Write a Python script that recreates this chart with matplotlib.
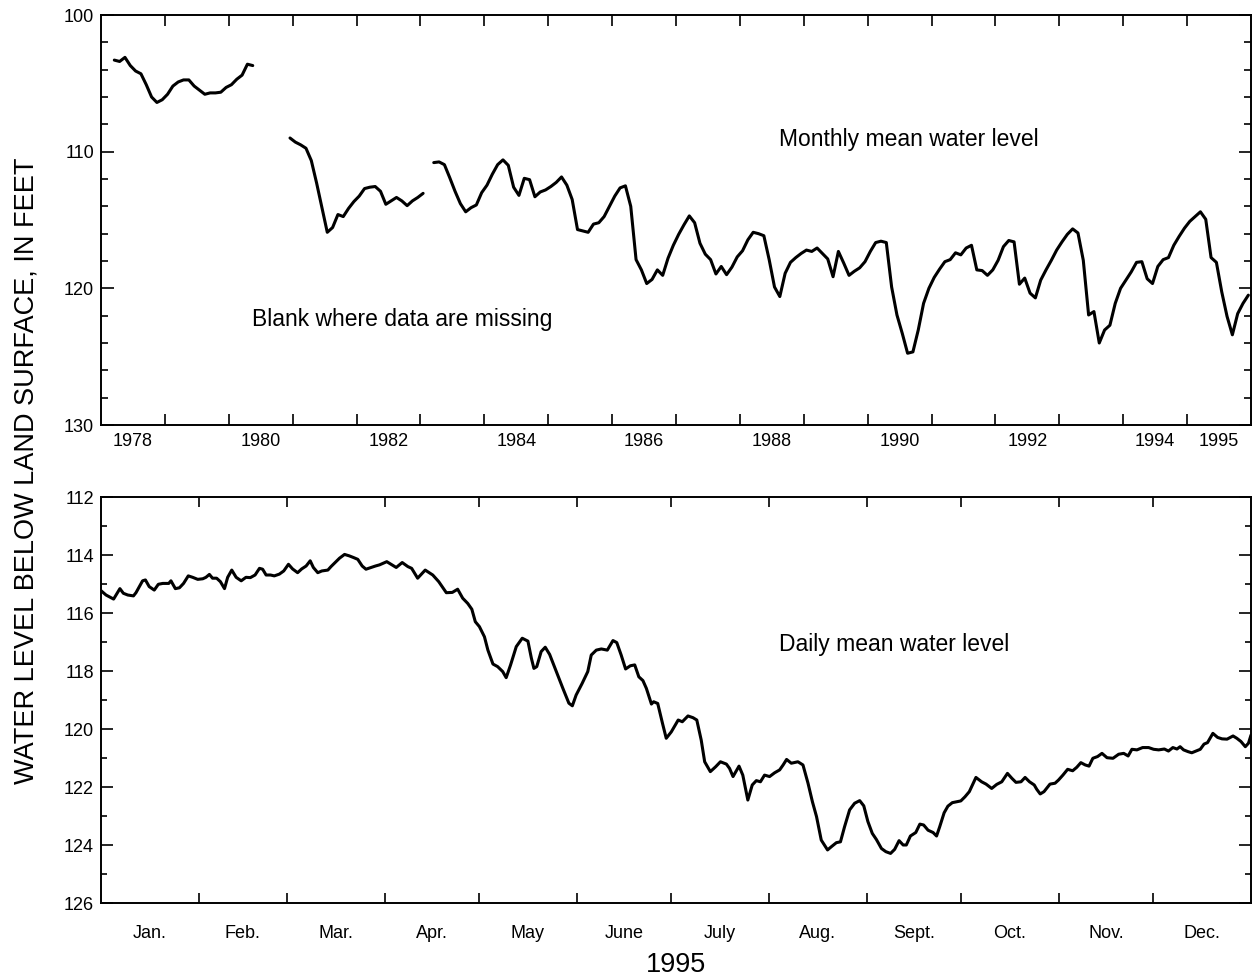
import numpy as np
import matplotlib.pyplot as plt
from matplotlib.ticker import FixedLocator, FixedFormatter, NullFormatter, MultipleLocator

plt.rcParams['font.family'] = ['Liberation Sans', 'DejaVu Sans']

# monthly mean water level (feet below land surface), three runs split by missing data
run1_start = '1978-03'
run1_levels = [103.3, 103.4, 103.1, 103.7, 104.1, 104.3, 105.1, 106.0, 106.4, 106.2,
               105.8, 105.2, 104.9, 104.75, 104.75, 105.2, 105.5, 105.8, 105.7, 105.7,
               105.65, 105.3, 105.1, 104.7, 104.4, 103.6, 103.7]

run2_start = '1980-12'
run2_levels = [109.0, 109.3, 109.5, 109.75, 110.65, 112.3, 114.1, 115.9, 115.55, 114.6,
               114.75, 114.15, 113.65, 113.25, 112.7, 112.6, 112.55, 112.9, 113.85, 113.6,
               113.35, 113.6, 113.95, 113.6, 113.35, 113.05]

run3_start = '1983-03'
run3_levels = [110.8, 110.75, 110.95, 111.9, 112.9, 113.8, 114.4, 114.1, 113.9, 113.0,
               112.45, 111.65, 110.95, 110.6, 111.0, 112.6, 113.2, 111.95, 112.05, 113.3,
               112.95, 112.8, 112.55, 112.25, 111.85, 112.45, 113.5, 115.7, 115.8, 115.9,
               115.3, 115.2, 114.75, 114.0, 113.25, 112.65, 112.5, 114.0, 117.9, 118.65,
               119.65, 119.35, 118.65, 119.05, 117.8, 116.85, 116.05, 115.35, 114.7, 115.2,
               116.7, 117.5, 117.9, 118.95, 118.4, 119.0, 118.45, 117.7, 117.25, 116.45,
               115.9, 116.0, 116.15, 117.9, 119.9, 120.6, 118.9, 118.1, 117.75, 117.45,
               117.2, 117.3, 117.05, 117.45, 117.85, 119.15, 117.3, 118.15, 119.05, 118.75,
               118.5, 118.05, 117.3, 116.65, 116.55, 116.65, 119.9, 121.95, 123.3, 124.75,
               124.65, 123.05, 121.1, 120.0, 119.2, 118.6, 118.05, 117.9, 117.4, 117.55,
               117.05, 116.85, 118.65, 118.7, 119.05, 118.65, 117.95, 116.95, 116.5, 116.6,
               119.7, 119.25, 120.35, 120.7, 119.4, 118.65, 117.95, 117.2, 116.6, 116.05,
               115.65, 115.95, 117.95, 121.95, 121.7, 124.0, 123.05, 122.7, 121.1, 120.0,
               119.4, 118.8, 118.1, 118.05, 119.3, 119.65, 118.4, 117.9, 117.75, 116.85,
               116.2, 115.6, 115.1, 114.75, 114.4, 114.95, 117.75, 118.1, 120.25, 122.05,
               123.4, 121.85, 121.1, 120.5]

year_label_years = [1978, 1980, 1982, 1984, 1986, 1988, 1990, 1992, 1994, 1995]

# daily mean water level, 1995 (day of year)
daily_day = [0.0, 1.6, 4.0, 6.0, 7.1, 8.5, 10.3, 11.1, 13.2, 14.1, 15.3, 16.9, 18.2, 19.6,
             21.5, 22.2, 23.6, 24.9, 26.2, 27.7, 29.1, 30.7, 32.3, 33.3, 34.4, 35.4, 36.7,
             37.9, 39.2, 40.2, 41.5, 42.9, 44.5, 46.0, 47.4, 48.9, 50.3, 51.3, 52.4, 53.8,
             55.0, 56.6, 58.0, 59.5, 60.8, 62.4, 63.7, 65.1, 66.4, 67.4, 68.8, 70.1, 72.0,
             73.0, 74.6, 75.7, 77.3, 78.8, 80.2, 81.5, 82.9, 84.1, 85.7, 87.1, 88.4, 90.7,
             93.7, 95.6, 97.4, 98.6, 100.5, 102.9, 105.3, 107.2, 109.6, 111.5, 113.2, 114.8,
             116.4, 117.7, 118.8, 120.1, 121.7, 122.8, 124.4, 125.9, 127.5, 128.6, 130.0,
             131.8, 133.7, 135.5, 136.6, 137.4, 138.3, 139.7, 141.0, 142.4, 144.5, 146.6,
             148.5, 149.6, 150.8, 152.7, 154.5, 155.6, 157.2, 158.8, 160.7, 162.5, 163.7,
             165.1, 166.5, 168.0, 169.4, 170.7, 172.0, 173.1, 174.7, 175.4, 176.7, 178.2,
             179.4, 181.0, 183.2, 184.5, 186.3, 187.9, 189.1, 190.5, 191.6, 193.4, 195.1,
             196.6, 198.5, 199.5, 200.6, 202.5, 203.7, 205.3, 206.7, 208.0, 209.3, 210.6,
             212.2, 213.8, 215.4, 216.5, 217.6, 219.1, 221.2, 222.8, 224.4, 225.8, 227.1,
             228.6, 230.6, 231.8, 233.4, 234.7, 236.0, 237.6, 239.2, 240.8, 242.1, 243.4,
             244.8, 246.1, 247.7, 249.1, 250.6, 251.9, 253.3, 254.6, 255.6, 256.9, 258.6,
             259.9, 261.1, 262.5, 264.1, 265.2, 266.2, 267.6, 268.8, 270.2, 271.6, 272.9,
             274.2, 275.6, 276.4, 277.7, 279.5, 280.9, 282.7, 284.3, 285.9, 287.7, 289.1,
             290.4, 292.0, 293.3, 294.7, 296.2, 297.0, 298.1, 299.3, 301.2, 302.8, 303.9,
             305.3, 306.8, 308.4, 309.7, 311.0, 312.4, 313.6, 314.8, 316.3, 317.7, 319.3,
             321.2, 323.0, 324.6, 326.0, 327.2, 328.8, 330.6, 332.5, 334.1, 335.7, 337.5,
             338.8, 340.2, 341.5, 342.5, 343.6, 345.0, 346.2, 347.8, 348.9, 350.1, 351.2,
             352.9, 354.4, 355.8, 357.4, 359.3, 360.5, 361.8, 363.2, 364.2, 365.0]
daily_level = [115.23, 115.38, 115.52, 115.16, 115.32, 115.38, 115.41, 115.30, 114.89, 114.86,
               115.09, 115.21, 115.01, 114.98, 114.98, 114.89, 115.16, 115.13, 114.98, 114.72,
               114.77, 114.84, 114.82, 114.77, 114.67, 114.80, 114.80, 114.92, 115.16, 114.77,
               114.52, 114.77, 114.89, 114.77, 114.78, 114.69, 114.46, 114.49, 114.69, 114.69,
               114.72, 114.66, 114.55, 114.32, 114.48, 114.61, 114.48, 114.38, 114.20, 114.43,
               114.61, 114.55, 114.52, 114.40, 114.23, 114.11, 113.98, 114.03, 114.09, 114.15,
               114.38, 114.49, 114.43, 114.38, 114.34, 114.23, 114.43, 114.26, 114.40, 114.46,
               114.80, 114.52, 114.69, 114.92, 115.30, 115.29, 115.18, 115.49, 115.67, 115.87,
               116.30, 116.47, 116.82, 117.28, 117.76, 117.85, 118.02, 118.23, 117.79, 117.16,
               116.87, 116.97, 117.56, 117.91, 117.85, 117.33, 117.18, 117.43, 118.02, 118.60,
               119.11, 119.20, 118.83, 118.43, 118.02, 117.45, 117.28, 117.24, 117.28, 116.95,
               117.02, 117.45, 117.93, 117.82, 117.79, 118.20, 118.33, 118.60, 119.14, 119.06,
               119.12, 119.80, 120.32, 120.10, 119.69, 119.75, 119.55, 119.61, 119.69, 120.38,
               121.13, 121.47, 121.30, 121.13, 121.21, 121.36, 121.64, 121.28, 121.59, 122.45,
               121.93, 121.78, 121.82, 121.59, 121.64, 121.51, 121.41, 121.24, 121.05, 121.18,
               121.13, 121.24, 121.87, 122.51, 123.02, 123.83, 124.17, 124.06, 123.92, 123.89,
               123.37, 122.79, 122.56, 122.47, 122.65, 123.19, 123.60, 123.81, 124.12, 124.23,
               124.29, 124.15, 123.85, 124.00, 124.00, 123.69, 123.57, 123.28, 123.31, 123.49,
               123.57, 123.69, 123.37, 122.89, 122.66, 122.54, 122.51, 122.48, 122.34, 122.16,
               121.97, 121.67, 121.82, 121.90, 122.05, 121.91, 121.82, 121.53, 121.70, 121.84,
               121.82, 121.67, 121.82, 121.93, 122.08, 122.24, 122.16, 121.90, 121.87, 121.76,
               121.59, 121.39, 121.44, 121.32, 121.16, 121.24, 121.28, 121.01, 120.95, 120.84,
               120.99, 121.01, 120.87, 120.84, 120.93, 120.70, 120.72, 120.64, 120.64, 120.70,
               120.72, 120.69, 120.76, 120.64, 120.69, 120.61, 120.72, 120.78, 120.82, 120.75,
               120.70, 120.52, 120.47, 120.15, 120.29, 120.34, 120.35, 120.24, 120.32, 120.43,
               120.61, 120.49, 120.21]

month_labels = ['Jan.', 'Feb.', 'Mar.', 'Apr.', 'May', 'June', 'July', 'Aug.', 'Sept.',
                'Oct.', 'Nov.', 'Dec.']
month_days = [31, 28, 31, 30, 31, 30, 31, 31, 30, 31, 30, 31]


def month_positions(start, n):
    year, month = map(int, start.split('-'))
    idx = (year - 1978) * 12 + (month - 1) + np.arange(n)
    return 1978 + (idx + 0.5) / 12


def style_axes(ax):
    for sp in ax.spines.values():
        sp.set_linewidth(1.4)
    ax.tick_params(which='both', direction='in', top=True, right=True, width=1.2,
                   labelsize=13)


fig = plt.figure(figsize=(12.57, 9.77), dpi=100)
line_kw = dict(color='black', lw=2.2, solid_joinstyle='round', solid_capstyle='round')

# --- monthly panel
ax1 = fig.add_axes([101 / 1257, 1 - 425 / 977, 1150 / 1257, 410 / 977])
for start, levels in [(run1_start, run1_levels), (run2_start, run2_levels),
                      (run3_start, run3_levels)]:
    ax1.plot(month_positions(start, len(levels)), levels, **line_kw)
ax1.set_xlim(1978, 1996)
ax1.set_ylim(130, 100)
style_axes(ax1)
ax1.xaxis.set_major_locator(FixedLocator(list(range(1979, 1996))))
ax1.xaxis.set_major_formatter(NullFormatter())
ax1.xaxis.set_minor_locator(FixedLocator([y + 0.5 for y in year_label_years]))
ax1.xaxis.set_minor_formatter(FixedFormatter([str(y) for y in year_label_years]))
ax1.tick_params(axis='x', which='major', length=8)
ax1.tick_params(axis='x', which='minor', length=0, pad=5.5)
ax1.yaxis.set_major_locator(MultipleLocator(10))
ax1.yaxis.set_minor_locator(MultipleLocator(2))
ax1.tick_params(axis='y', which='major', length=9, pad=5)
ax1.tick_params(axis='y', which='minor', length=4.8)
ax1.text(1988.61, 109.61, 'Monthly mean water level', fontsize=16.5, va='baseline')
ax1.text(1980.37, 122.74, 'Blank where data are missing', fontsize=16.5, va='baseline')

# --- daily panel, 1995
ax2 = fig.add_axes([101 / 1257, 1 - 903 / 977, 1150 / 1257, 406 / 977])
ax2.plot(daily_day, daily_level, **line_kw)
ax2.set_xlim(0, 365)
ax2.set_ylim(126, 112)
style_axes(ax2)
month_start = np.concatenate([[0], np.cumsum(month_days)])
ax2.xaxis.set_major_locator(FixedLocator(month_start[1:12]))
ax2.xaxis.set_major_formatter(NullFormatter())
ax2.xaxis.set_minor_locator(FixedLocator((month_start[:-1] + month_start[1:]) / 2))
ax2.xaxis.set_minor_formatter(FixedFormatter(month_labels))
ax2.tick_params(axis='x', which='major', length=7)
ax2.tick_params(axis='x', which='minor', length=0, pad=15.5)
ax2.yaxis.set_major_locator(MultipleLocator(2))
ax2.yaxis.set_minor_locator(MultipleLocator(1))
ax2.tick_params(axis='y', which='major', length=8.4, pad=5)
ax2.tick_params(axis='y', which='minor', length=4.1)
ax2.text(215.2, 117.32, 'Daily mean water level', fontsize=16.5, va='baseline')

fig.text(676 / 1257, 1 - 965 / 977, '1995', fontsize=19.5, ha='center', va='center')
fig.text(27 / 1257, 1 - 471 / 977, 'WATER LEVEL BELOW LAND SURFACE, IN FEET',
         fontsize=19.5, rotation=90, ha='center', va='center')

fig.savefig('out.png', dpi=100)
